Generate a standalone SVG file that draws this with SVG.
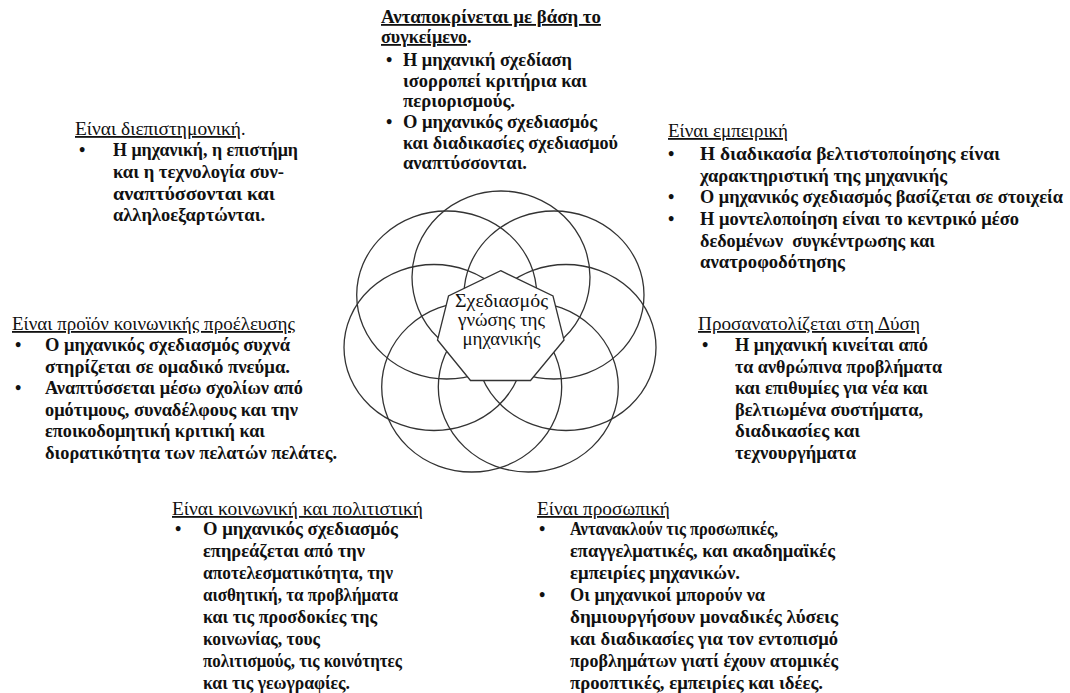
<svg xmlns="http://www.w3.org/2000/svg" width="1070" height="693" viewBox="0 0 1070 693">
<style>
text{font-family:"Liberation Serif","DejaVu Serif",serif;font-size:18px;fill:#111}
.b{font-weight:bold}
.h{text-decoration:underline}
.ring{fill:none;stroke:#333;stroke-width:1.3}
.core{fill:#fff;stroke:#333;stroke-width:1.3}
.c{font-size:18px;text-anchor:middle}
</style>
<rect width="1070" height="693" fill="#fff"/>
<g id="rings">
<ellipse class="ring" cx="501" cy="277" rx="89" ry="86"/>
<ellipse class="ring" cx="446.7" cy="295" rx="90" ry="84"/>
<ellipse class="ring" cx="554" cy="295" rx="90" ry="84"/>
<ellipse class="ring" cx="434" cy="347.5" rx="90" ry="83"/>
<ellipse class="ring" cx="566" cy="347.5" rx="90" ry="83"/>
<ellipse class="ring" cx="471.7" cy="387" rx="90" ry="85"/>
<ellipse class="ring" cx="528.3" cy="387" rx="90" ry="85"/>
</g>
<g id="connectors"/>
<g id="core">
<polygon class="core" points="500.7,270.7 553,296 564,340 530.5,380.5 470.5,380.5 437.5,340 448.5,296"/>
<text class="c" x="501.5" y="307" textLength="93" lengthAdjust="spacingAndGlyphs">Σχεδιασμός</text>
<text class="c" x="501.5" y="326" textLength="87" lengthAdjust="spacingAndGlyphs">γνώσης της</text>
<text class="c" x="501.5" y="345" textLength="78" lengthAdjust="spacingAndGlyphs">μηχανικής</text>
</g>
<g id="context">
<text class="b h" x="381" y="23" textLength="220" lengthAdjust="spacingAndGlyphs">Ανταποκρίνεται με βάση το</text>
<text class="b" x="381" y="43"><tspan class="h" textLength="86" lengthAdjust="spacingAndGlyphs">συγκείμενο</tspan>.</text>
<text class="b" x="386" y="66">•</text>
<text class="b" x="403" y="66" textLength="169" lengthAdjust="spacingAndGlyphs">Η μηχανική σχεδίαση</text>
<text class="b" x="403" y="86.5" textLength="184" lengthAdjust="spacingAndGlyphs">ισορροπεί κριτήρια και</text>
<text class="b" x="403" y="107" textLength="112" lengthAdjust="spacingAndGlyphs">περιορισμούς.</text>
<text class="b" x="386" y="128">•</text>
<text class="b" x="403" y="128" textLength="194" lengthAdjust="spacingAndGlyphs">Ο μηχανικός σχεδιασμός</text>
<text class="b" x="403" y="148.5" textLength="215" lengthAdjust="spacingAndGlyphs">και διαδικασίες σχεδιασμού</text>
<text class="b" x="403" y="169" textLength="124" lengthAdjust="spacingAndGlyphs">αναπτύσσονται.</text>
</g>
<g id="interdisciplinary">
<text x="75" y="135"><tspan class="h" textLength="166" lengthAdjust="spacingAndGlyphs">Είναι διεπιστημονική</tspan>.</text>
<text class="b" x="79" y="156">•</text>
<text class="b" x="113" y="156" textLength="185" lengthAdjust="spacingAndGlyphs">Η μηχανική, η επιστήμη</text>
<text class="b" x="113" y="177.5" textLength="171" lengthAdjust="spacingAndGlyphs">και η τεχνολογία συν-</text>
<text class="b" x="113" y="199.5" textLength="162" lengthAdjust="spacingAndGlyphs">αναπτύσσονται και</text>
<text class="b" x="113" y="221" textLength="152" lengthAdjust="spacingAndGlyphs">αλληλοεξαρτώνται.</text>
</g>
<g id="empirical">
<text class="h" x="668" y="137" textLength="120" lengthAdjust="spacingAndGlyphs">Είναι εμπειρική</text>
<text class="b" x="668" y="160">•</text>
<text class="b" x="700" y="160" textLength="300" lengthAdjust="spacingAndGlyphs">Η διαδικασία βελτιστοποίησης είναι</text>
<text class="b" x="700" y="182" textLength="247" lengthAdjust="spacingAndGlyphs">χαρακτηριστική της μηχανικής</text>
<text class="b" x="668" y="203">•</text>
<text class="b" x="700" y="203" textLength="363" lengthAdjust="spacingAndGlyphs">Ο μηχανικός σχεδιασμός βασίζεται σε στοιχεία</text>
<text class="b" x="668" y="224.5">•</text>
<text class="b" x="700" y="224.5" textLength="319" lengthAdjust="spacingAndGlyphs">Η μοντελοποίηση είναι το κεντρικό μέσο</text>
<text class="b" x="700" y="246.5" xml:space="preserve" textLength="235" lengthAdjust="spacingAndGlyphs">δεδομένων  συγκέντρωσης και</text>
<text class="b" x="700" y="268" textLength="145" lengthAdjust="spacingAndGlyphs">ανατροφοδότησης</text>
</g>
<g id="social-origin">
<text class="h" x="12" y="330" textLength="283" lengthAdjust="spacingAndGlyphs">Είναι προϊόν κοινωνικής προέλευσης</text>
<text class="b" x="15" y="351">•</text>
<text class="b" x="45" y="351" textLength="245" lengthAdjust="spacingAndGlyphs">Ο μηχανικός σχεδιασμός συχνά</text>
<text class="b" x="45" y="372.5" textLength="245" lengthAdjust="spacingAndGlyphs">στηρίζεται σε ομαδικό πνεύμα.</text>
<text class="b" x="15" y="394">•</text>
<text class="b" x="45" y="394" textLength="258" lengthAdjust="spacingAndGlyphs">Αναπτύσσεται μέσω σχολίων από</text>
<text class="b" x="45" y="415.5" textLength="253" lengthAdjust="spacingAndGlyphs">ομότιμους, συναδέλφους και την</text>
<text class="b" x="45" y="437" textLength="220" lengthAdjust="spacingAndGlyphs">εποικοδομητική κριτική και</text>
<text class="b" x="45" y="458.5" textLength="292" lengthAdjust="spacingAndGlyphs">διορατικότητα των πελατών πελάτες.</text>
</g>
<g id="solution">
<text class="h" x="698" y="330" textLength="222" lengthAdjust="spacingAndGlyphs">Προσανατολίζεται στη Δύση</text>
<text class="b" x="702" y="351">•</text>
<text class="b" x="735" y="351" textLength="193" lengthAdjust="spacingAndGlyphs">Η μηχανική κινείται από</text>
<text class="b" x="735" y="372.5" textLength="207" lengthAdjust="spacingAndGlyphs">τα ανθρώπινα προβλήματα</text>
<text class="b" x="735" y="394" textLength="193" lengthAdjust="spacingAndGlyphs">και επιθυμίες για νέα και</text>
<text class="b" x="735" y="415.5" textLength="188" lengthAdjust="spacingAndGlyphs">βελτιωμένα συστήματα,</text>
<text class="b" x="735" y="437" textLength="125" lengthAdjust="spacingAndGlyphs">διαδικασίες και</text>
<text class="b" x="735" y="458.5" textLength="121" lengthAdjust="spacingAndGlyphs">τεχνουργήματα</text>
</g>
<g id="social-cultural">
<text class="h" x="172" y="515" textLength="251" lengthAdjust="spacingAndGlyphs">Είναι κοινωνική και πολιτιστική</text>
<text class="b" x="175" y="535">•</text>
<text class="b" x="203" y="535" textLength="195" lengthAdjust="spacingAndGlyphs">Ο μηχανικός σχεδιασμός</text>
<text class="b" x="203" y="557" textLength="162" lengthAdjust="spacingAndGlyphs">επηρεάζεται από την</text>
<text class="b" x="203" y="579" textLength="190" lengthAdjust="spacingAndGlyphs">αποτελεσματικότητα, την</text>
<text class="b" x="203" y="601" textLength="195" lengthAdjust="spacingAndGlyphs">αισθητική, τα προβλήματα</text>
<text class="b" x="203" y="623" textLength="174" lengthAdjust="spacingAndGlyphs">και τις προσδοκίες της</text>
<text class="b" x="203" y="645" textLength="117" lengthAdjust="spacingAndGlyphs">κοινωνίας, τους</text>
<text class="b" x="203" y="667" textLength="199" lengthAdjust="spacingAndGlyphs">πολιτισμούς, τις κοινότητες</text>
<text class="b" x="203" y="689" textLength="147" lengthAdjust="spacingAndGlyphs">και τις γεωγραφίες.</text>
</g>
<g id="personal">
<text class="h" x="537" y="515" textLength="133" lengthAdjust="spacingAndGlyphs">Είναι προσωπική</text>
<text class="b" x="539" y="535">•</text>
<text class="b" x="570" y="535" textLength="208" lengthAdjust="spacingAndGlyphs">Αντανακλούν τις προσωπικές,</text>
<text class="b" x="570" y="557" textLength="265" lengthAdjust="spacingAndGlyphs">επαγγελματικές, και ακαδημαϊκές</text>
<text class="b" x="570" y="579" textLength="170" lengthAdjust="spacingAndGlyphs">εμπειρίες μηχανικών.</text>
<text class="b" x="539" y="601">•</text>
<text class="b" x="570" y="601" textLength="195" lengthAdjust="spacingAndGlyphs">Οι μηχανικοί μπορούν να</text>
<text class="b" x="570" y="623" textLength="268" lengthAdjust="spacingAndGlyphs">δημιουργήσουν μοναδικές λύσεις</text>
<text class="b" x="570" y="645" textLength="268" lengthAdjust="spacingAndGlyphs">και διαδικασίες για τον εντοπισμό</text>
<text class="b" x="570" y="667" textLength="268" lengthAdjust="spacingAndGlyphs">προβλημάτων γιατί έχουν ατομικές</text>
<text class="b" x="570" y="689" textLength="253" lengthAdjust="spacingAndGlyphs">προοπτικές, εμπειρίες και ιδέες.</text>
</g>
</svg>
